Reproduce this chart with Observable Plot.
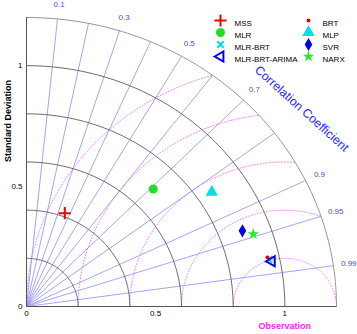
<!DOCTYPE html>
<html>
<head>
<meta charset="utf-8">
<script src="https://cdn.jsdelivr.net/npm/d3@7"></script>
<script src="https://cdn.jsdelivr.net/npm/@observablehq/plot@0.6"></script>
<style>
  html, body { margin: 0; padding: 0; background: #fff; }
  #chart { width: 357px; height: 334px; }
</style>
</head>
<body>
<div id="chart"></div>
<script>
// ---- data ----
const models = ["MSS", "MLR", "MLR-BRT", "MLR-BRT-ARIMA", "BRT", "MLP", "SVR", "NARX"];
const stdDev = [0.415, 0.692, 0.959, 0.968, 0.955, 0.860, 0.893, 0.928];
const corr   = [0.357, 0.709, 0.979, 0.981, 0.977, 0.834, 0.936, 0.946];
const obsStd = 1;
const stdLevels = [0.2, 0.4, 0.6, 0.8, 1.0, 1.2];
const rmsLevels = [0.2, 0.4, 0.6, 0.8, 1.0];
const corrLines = [0.1, 0.2, 0.3, 0.4, 0.5, 0.6, 0.7, 0.8, 0.9, 0.95, 0.99];
const corrLabels = [0.1, 0.3, 0.5, 0.7, 0.9, 0.95, 0.99];
const axisTicks = [0, 0.5, 1];
const maxStd = 1.2;

// ---- styles per model ----
const styles = {
  "MSS":           {symbol: "plus",      stroke: "#ee0000", fill: "none",    r: 4,   sw: 2},
  "MLR":           {symbol: "circle",    stroke: "none",    fill: "#22dd22", r: 4.5, sw: 0},
  "MLR-BRT":       {symbol: "times",     stroke: "#00e0ea", fill: "none",    r: 3,   sw: 2},
  "MLR-BRT-ARIMA": {symbol: "triangle2", stroke: "#0000ee", fill: "none",    r: 4.8, sw: 2, rotate: -90},
  "BRT":           {symbol: "circle",    stroke: "none",    fill: "#ee0000", r: 2,   sw: 0},
  "MLP":           {symbol: "triangle",  stroke: "none",    fill: "#00e0ea", r: 4.6, sw: 0},
  "SVR":           {symbol: "diamond",   stroke: "none",    fill: "#0000ee", r: 4,   sw: 0},
  "NARX":          {symbol: "star",      stroke: "none",    fill: "#22ee22", r: 3.6, sw: 0}
};

// ---- geometry derived from the level arrays ----
const deg = Math.PI / 180;
const stdArcs = stdLevels.flatMap(r => d3.range(0, 90.5, 1).map(a => ({k: r, x: r * Math.cos(a * deg), y: r * Math.sin(a * deg)})));
const rmsArcs = rmsLevels.flatMap(r => d3.range(0, 180.5, 0.5)
  .map(a => ({k: r, x: obsStd + r * Math.cos(a * deg), y: r * Math.sin(a * deg)}))
  .filter(p => p.x * p.x + p.y * p.y <= maxStd * maxStd + 1e-9));
const corrSegs = corrLines.map(c => ({c, x1: 0, y1: 0, x2: maxStd * c, y2: maxStd * Math.sqrt(1 - c * c)}));
const labR = 1.26;
const corrLab = corrLabels.map(c => ({c, x: labR * c, y: labR * Math.sqrt(1 - c * c)}));
const pts = models.map((m, i) => ({m, x: stdDev[i] * corr[i], y: stdDev[i] * Math.sqrt(1 - corr[i] * corr[i])}));

const ccR = 1.345, ccC = 0.792;

// legend marks (frame-anchored)
const legendMarks = models.flatMap((m, i) => {
  const s = styles[m];
  const col = i < 4 ? 0 : 1;
  const row = i % 4;
  const dx = col === 0 ? 194 : 282;
  const dy = [3, 15, 27, 39][row];
  return [
    Plot.dot([m], {frameAnchor: "top-left", dx, dy, symbol: s.symbol, r: s.r, fill: s.fill, stroke: s.stroke, strokeWidth: s.sw, rotate: s.rotate || 0}),
    Plot.text([m], {frameAnchor: "top-left", dx: dx + 14, dy, text: d => d, textAnchor: "start", fill: "#000", fontSize: 8})
  ];
});

const pointMarks = pts.map(p => {
  const s = styles[p.m];
  return Plot.dot([p], {x: "x", y: "y", symbol: s.symbol, r: s.r, fill: s.fill, stroke: s.stroke, strokeWidth: s.sw, rotate: s.rotate || 0});
});

const chart = Plot.plot({
  width: 357,
  height: 334,
  marginLeft: 26,
  marginRight: 21,
  marginTop: 17,
  marginBottom: 28,
  x: {domain: [0, maxStd]},
  y: {domain: [0, maxStd]},
  style: {fontFamily: "'Liberation Sans', Arial, sans-serif", fontSize: "8px", background: "#fff", overflow: "visible"},
  marks: [
    Plot.line(rmsArcs, {x: "x", y: "y", z: "k", stroke: "#ff66ff", strokeWidth: 0.9, strokeDasharray: "1,2"}),
    Plot.link(corrSegs, {x1: "x1", y1: "y1", x2: "x2", y2: "y2", stroke: "#9a9af6", strokeWidth: 0.9}),
    Plot.line(stdArcs, {x: "x", y: "y", z: "k", stroke: d => d.k === maxStd ? "#8a8a8a" : "#5a5a5a", strokeWidth: 0.9}),
    Plot.ruleY([0], {x1: 0, x2: maxStd, stroke: "#555", strokeWidth: 1}),
    Plot.ruleX([0], {y1: 0, y2: maxStd, stroke: "#555", strokeWidth: 1}),
    Plot.axisX({ticks: axisTicks, tickSize: 0, tickPadding: 4, label: null, tickFormat: d => String(d), fill: "#000"}),
    Plot.axisY({ticks: axisTicks, tickSize: 0, tickPadding: 4, label: null, tickFormat: d => String(d), fill: "#000"}),
    Plot.text(corrLab, {x: "x", y: "y", text: d => String(d.c), fill: "#4848ff", fontSize: 8}),
    Plot.text(["Correlation Coefficient"], {x: [ccR * ccC], y: [ccR * Math.sqrt(1 - ccC * ccC)], text: d => d, rotate: 42, fill: "#2a2aff", fontSize: 12.3}),
    Plot.text(["Standard Deviation"], {frameAnchor: "left", dx: -18, rotate: -90, text: d => d, fontWeight: "bold", fontSize: 9, fill: "#000"}),
    Plot.text(["Observation"], {x: [obsStd], frameAnchor: "bottom", dy: 22, text: d => d, fontWeight: "bold", fontSize: 9, fill: "#ff22ff"}),
    ...pointMarks,
    ...legendMarks
  ]
});
document.getElementById("chart").appendChild(chart);
</script>
</body>
</html>
